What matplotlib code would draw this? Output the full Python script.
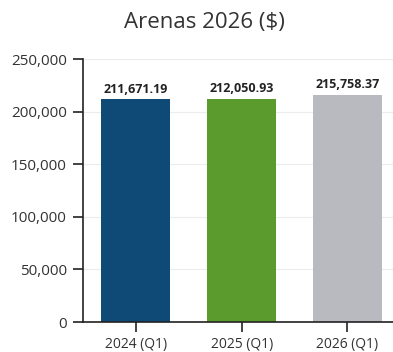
import matplotlib.pyplot as plt
from matplotlib.ticker import FuncFormatter

# chart data
categories = ['2024 (Q1)', '2025 (Q1)', '2026 (Q1)']
values = [211671.19, 212050.93, 215758.37]
colors = ['#0f4a77', '#5b9a2c', '#b9babf']
yticks = [0, 50000, 100000, 150000, 200000, 250000]

plt.rcParams['font.family'] = ['Open Sans', 'DejaVu Sans']

fig = plt.figure(figsize=(3.93, 3.52), dpi=100)
ax = fig.add_axes([0.211, 0.085, 0.789, 0.747])

x = list(range(len(categories)))
ax.bar(x, values, width=0.65, color=colors, zorder=2)
for xi, v in zip(x, values):
    ax.text(xi, v + 3500, f'{v:,.2f}', ha='center', va='bottom',
            fontsize=9, fontweight='bold', color='#222222')

ax.set_xlim(-0.5, 2.43)
ax.set_ylim(0, 250000)
ax.set_yticks(yticks)
ax.yaxis.set_major_formatter(FuncFormatter(lambda v, p: f'{int(v):,}'))
ax.set_xticks(x)
ax.set_xticklabels(categories)
ax.grid(axis='y', color='#ececec', linewidth=0.8, zorder=0)

for s in ['top', 'right']:
    ax.spines[s].set_visible(False)
for s in ['left', 'bottom']:
    ax.spines[s].set_color('#222222')
    ax.spines[s].set_linewidth(1.2)
ax.tick_params(axis='both', length=7.5, width=1.2, color='#222222',
               labelcolor='#333333', pad=3)
ax.tick_params(axis='y', labelsize=11, pad=4)
ax.tick_params(axis='x', labelsize=10)

fig.text(0.519, 0.937, 'Arenas 2026 ($)', ha='center', va='center',
         fontsize=16, color='#333333')

fig.savefig('out.png', dpi=100)
